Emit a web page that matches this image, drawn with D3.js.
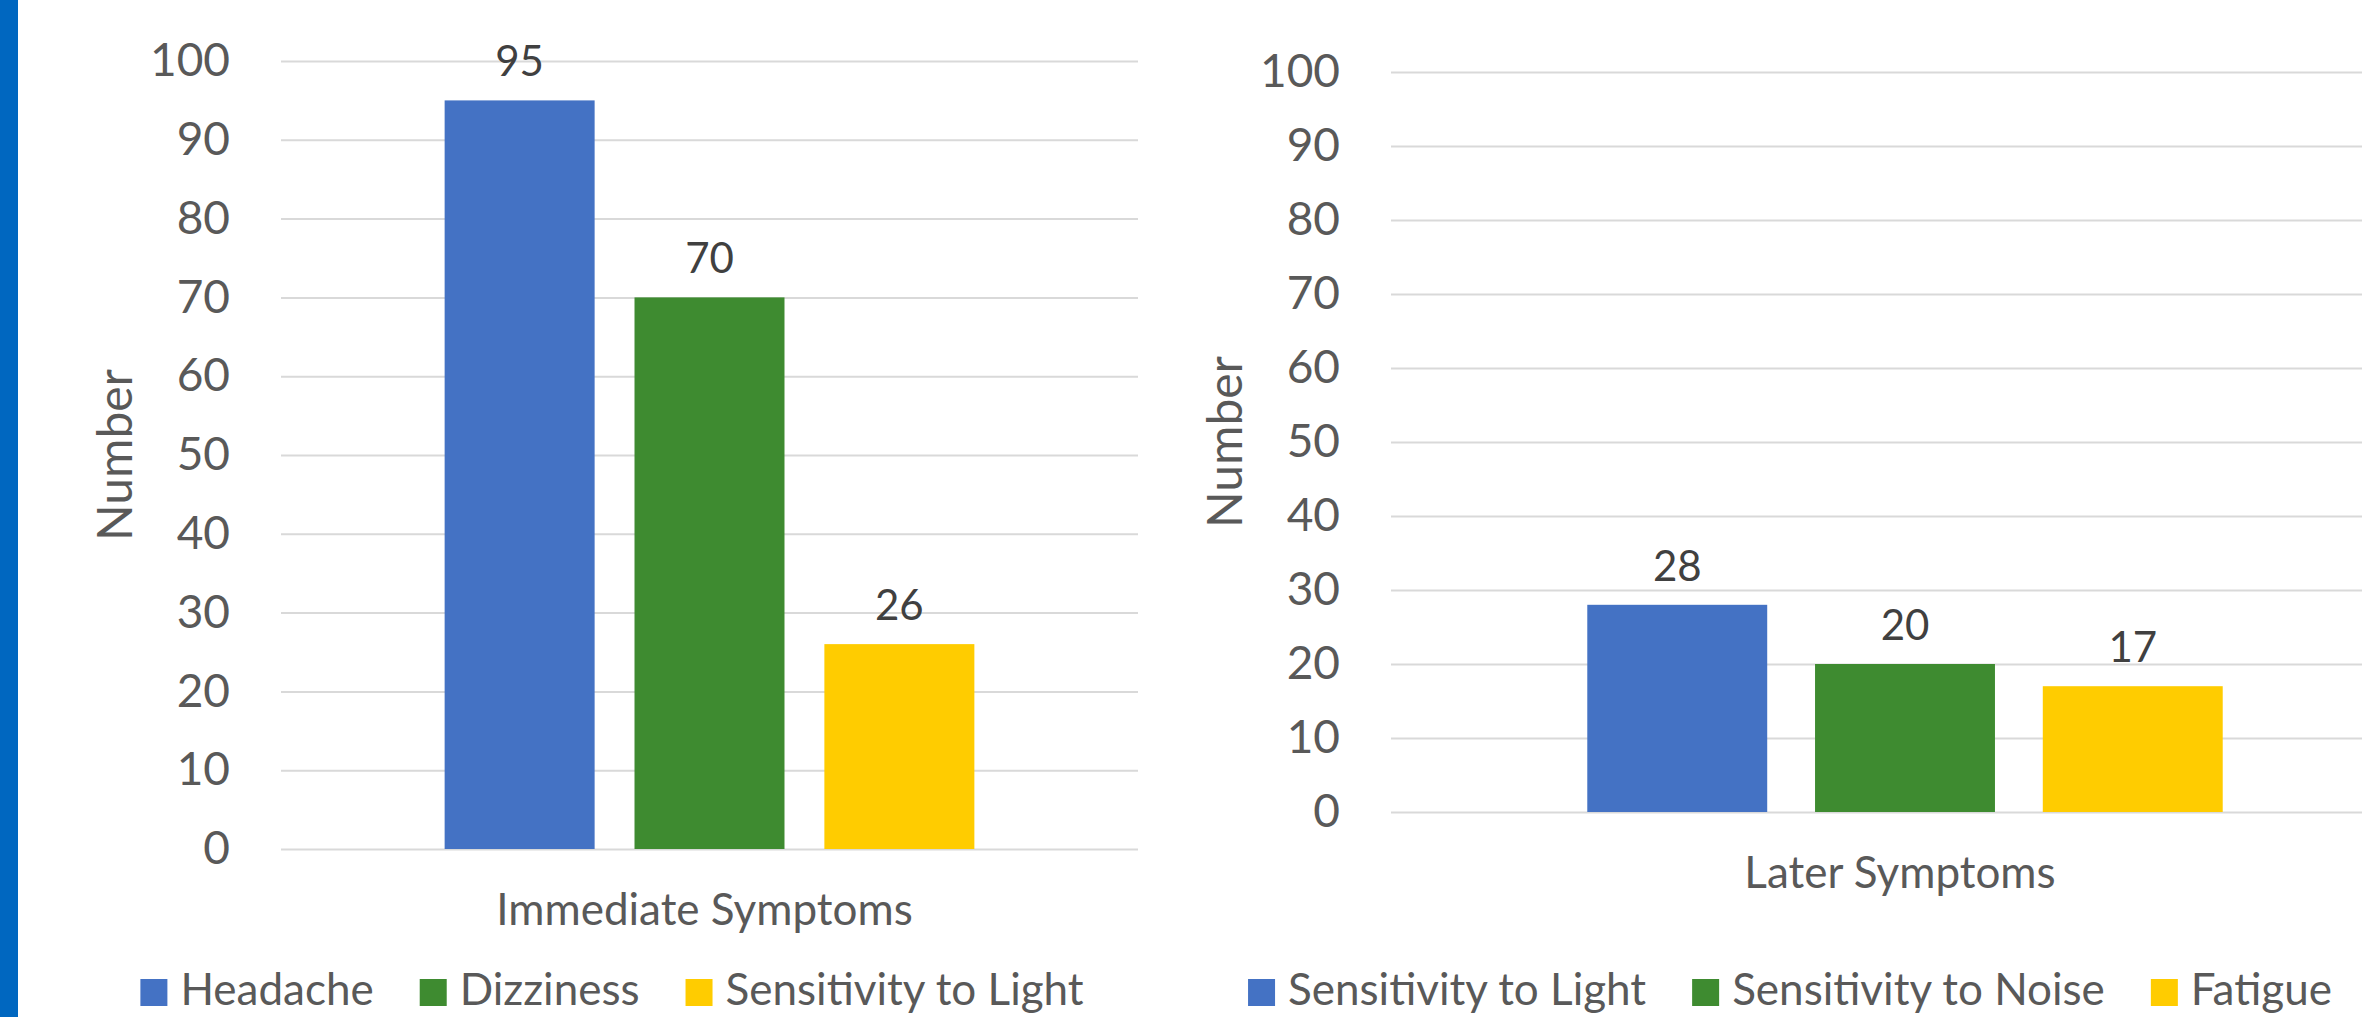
<!DOCTYPE html>
<html>
<head>
<meta charset="utf-8">
<script src="https://cdn.jsdelivr.net/npm/d3@7"></script>
<style>
  body { margin: 0; background: #fff; }
  svg { display: block; font-family: Lato, "Open Sans", sans-serif; }
</style>
</head>
<body>
<div id="chart"></div>
<script>
// data
const immediateGroup = "Immediate Symptoms";
const immediateNames = ["Headache", "Dizziness", "Sensitivity to Light"];
const immediateValues = [95, 70, 26];

const laterGroup = "Later Symptoms";
const laterNames = ["Sensitivity to Light", "Sensitivity to Noise", "Fatigue"];
const laterValues = [28, 20, 17];

const seriesColors = ["#4472C4", "#3E8B30", "#FFCC00"];
const yTicks = [0, 10, 20, 30, 40, 50, 60, 70, 80, 90, 100];
const yTitle = "Number";

const W = 2362, H = 1017;

const svg = d3.select("#chart").append("svg")
    .attr("width", W)
    .attr("height", H);

// blue strip at the left edge
svg.append("rect")
    .attr("x", 0).attr("y", 0)
    .attr("width", 18).attr("height", H)
    .attr("fill", "#0067C0");

function drawChart(cfg) {
    let g = svg.append("g");

    let y = d3.scaleLinear()
        .domain([0, 100])
        .range([cfg.bottom, cfg.top]);

    let x0 = d3.scaleBand()
        .domain([cfg.group])
        .range([cfg.left, cfg.right])
        .padding(0.236);

    let x1 = d3.scaleBand()
        .domain(cfg.names)
        .range([0, x0.bandwidth()])
        .paddingInner(0.21)
        .paddingOuter(0);

    // gridlines + tick labels
    let axis = g.append("g")
        .attr("transform", `translate(${cfg.left},0)`)
        .call(d3.axisLeft(y)
            .tickValues(yTicks)
            .tickSize(-(cfg.right - cfg.left))
            .tickPadding(51));
    axis.select(".domain").remove();
    axis.selectAll(".tick line")
        .attr("stroke", "#D9D9D9")
        .attr("stroke-width", 2);
    axis.selectAll(".tick text")
        .attr("fill", "#595959")
        .attr("font-size", 46)
        .attr("font-family", "Lato, sans-serif");

    // bars
    let bx = x0(cfg.group);
    g.selectAll(".bar")
        .data(cfg.values)
        .enter().append("rect")
        .attr("class", "bar")
        .attr("x", (d, i) => bx + x1(cfg.names[i]))
        .attr("y", d => y(d))
        .attr("width", x1.bandwidth())
        .attr("height", d => cfg.bottom - y(d))
        .attr("fill", (d, i) => seriesColors[i]);

    // value labels
    g.selectAll(".val")
        .data(cfg.values)
        .enter().append("text")
        .attr("class", "val")
        .attr("x", (d, i) => bx + x1(cfg.names[i]) + x1.bandwidth() / 2)
        .attr("y", d => y(d) - 24)
        .attr("text-anchor", "middle")
        .attr("fill", "#404040")
        .attr("font-size", 42)
        .text(d => d);

    // category label
    g.append("text")
        .attr("x", bx + x0.bandwidth() / 2 - 5)
        .attr("y", cfg.bottom + 76)
        .attr("text-anchor", "middle")
        .attr("fill", "#595959")
        .attr("font-size", 44)
        .text(cfg.group);

    // y title
    g.append("text")
        .attr("transform", `translate(${cfg.left - 168},${(cfg.top + cfg.bottom) / 2}) rotate(-90)`)
        .attr("text-anchor", "middle")
        .attr("dominant-baseline", "central")
        .attr("fill", "#595959")
        .attr("font-size", 48)
        .text(yTitle);

    // legend
    let leg = g.append("g");
    let items = leg.selectAll(".item")
        .data(cfg.names)
        .enter().append("g")
        .attr("class", "item");
    items.append("rect")
        .attr("width", 27).attr("height", 27)
        .attr("y", 979)
        .attr("fill", (d, i) => seriesColors[i]);
    items.append("text")
        .attr("x", 40)
        .attr("y", 1005)
        .attr("fill", "#595959")
        .attr("font-size", 44)
        .text(d => d);

    let offs = [];
    let total = 0;
    items.each(function(d, i) {
        let w = 40 + d3.select(this).select("text").node().getComputedTextLength();
        offs.push(total);
        total += w + (i < cfg.names.length - 1 ? 46 : 0);
    });
    let start = cfg.legendCenter - total / 2;
    items.attr("transform", (d, i) => `translate(${start + offs[i]},0)`);
}

drawChart({
    group: immediateGroup, names: immediateNames, values: immediateValues,
    left: 281, right: 1138, top: 61, bottom: 849, legendCenter: 612
});

drawChart({
    group: laterGroup, names: laterNames, values: laterValues,
    left: 1391, right: 2419, top: 72, bottom: 812, legendCenter: 1790
});
</script>
</body>
</html>
